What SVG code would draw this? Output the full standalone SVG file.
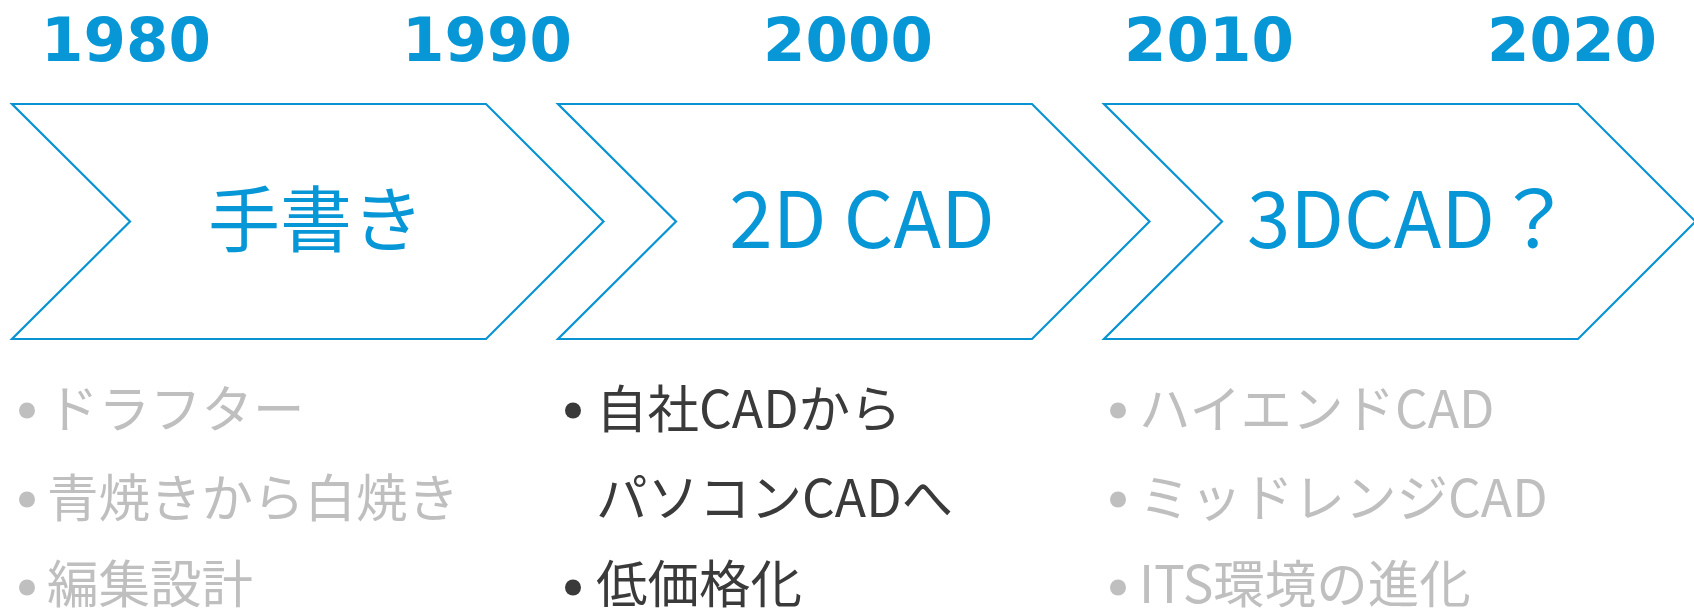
<svg xmlns="http://www.w3.org/2000/svg" width="1694" height="609" viewBox="0 0 1694 609">
<style>
.year{font-family:"DejaVu Sans","Noto Sans CJK JP",sans-serif;font-weight:bold;font-size:61px;fill:#0797D7;text-anchor:middle}
.chev{fill:#FFFFFF;stroke:#0A93D3;stroke-width:2.2}
.title{font-family:"Noto Sans CJK JP",sans-serif;font-size:78px;fill:#0797D7}
.item{font-family:"Noto Sans CJK JP",sans-serif;font-size:51.5px}
.gray{fill:#BFBFBF}
.dark{fill:#3A3A3A}
</style>
<rect width="1694" height="609" fill="#FFFFFF"/>
<g id="years">
<text class="year" x="126" y="61">1980</text>
<text class="year" x="487" y="61">1990</text>
<text class="year" x="848" y="61">2000</text>
<text class="year" x="1209" y="61">2010</text>
<text class="year" x="1572" y="61">2020</text>
</g>
<g id="node-handwriting">
<polygon class="chev" points="12,104 486,104 603.5,221.5 486,339 12,339 130,221.5"/>
<text class="title" x="316" y="246" text-anchor="middle" style="font-size:72px">手書き</text>
</g>
<g id="node-2dcad">
<polygon class="chev" points="558,104 1032,104 1149.5,221.5 1032,339 558,339 676,221.5"/>
<text class="title" x="862" y="248" text-anchor="middle">2D CAD</text>
</g>
<g id="node-3dcad">
<polygon class="chev" points="1104,104 1578,104 1695.5,221.5 1578,339 1104,339 1222,221.5"/>
<text class="title" x="1247" y="248">3DCAD？</text>
</g>
<g id="connectors"></g>
<g id="list-1" class="gray">
<circle cx="27" cy="410.5" r="8"/>
<circle cx="27" cy="499.5" r="8"/>
<circle cx="27" cy="587.5" r="8"/>
<text class="item gray" x="47" y="428">ドラフター</text>
<text class="item gray" x="47" y="517">青焼きから白焼き</text>
<text class="item gray" x="47" y="603">編集設計</text>
</g>
<g id="list-2" class="dark">
<circle cx="573" cy="410.5" r="8"/>
<circle cx="573" cy="587.5" r="8"/>
<text class="item dark" x="596" y="428">自社CADから</text>
<text class="item dark" x="596" y="517">パソコンCADへ</text>
<text class="item dark" x="596" y="603">低価格化</text>
</g>
<g id="list-3" class="gray">
<circle cx="1118" cy="410.5" r="8"/>
<circle cx="1118" cy="499.5" r="8"/>
<circle cx="1118" cy="587.5" r="8"/>
<text class="item gray" x="1139" y="428">ハイエンドCAD</text>
<text class="item gray" x="1139" y="517">ミッドレンジCAD</text>
<text class="item gray" x="1139" y="603">ITS環境の進化</text>
</g>
</svg>
